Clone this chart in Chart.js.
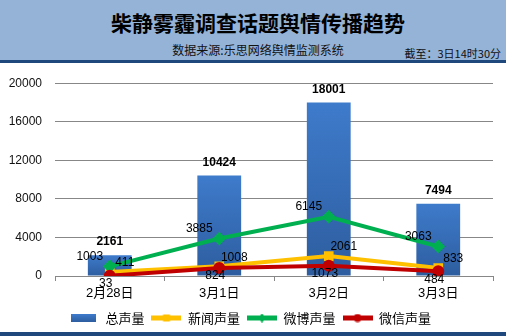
<!DOCTYPE html>
<html>
<head>
<meta charset="utf-8">
<script src="https://cdn.jsdelivr.net/npm/chart.js@4"></script>
<style>
    body { margin: 0; width: 506px; height: 336px; overflow: hidden; background: #fff; position: relative; }
    #header { position: absolute; left: 0; top: 0; width: 506px; height: 60px; background: #95B3D7; border-bottom: 3px solid #1F497D; }
    #title { position: absolute; left: 5px; width: 506px; top: 8px; text-align: center; font: bold 21px "Noto Sans CJK SC"; color: #000; line-height: 28px; }
    #source { position: absolute; left: 5px; width: 506px; top: 41px; text-align: center; font: 12px "Noto Sans CJK SC"; color: #111; line-height: 18px; }
    #asof { position: absolute; right: 5px; top: 45px; font: 11px "Noto Sans CJK SC"; color: #111; line-height: 16px; }
    #wrap { position: absolute; left: 0; top: 63px; width: 506px; height: 273px; }
    #footer { position: absolute; left: 0; top: 332px; width: 506px; height: 4px; background: #1F497D; }
</style>
</head>
<body>
<div id="header">
    <div id="title">柴静雾霾调查话题舆情传播趋势</div>
    <div id="source">数据来源:乐思网络舆情监测系统</div>
    <div id="asof">截至：3日14时30分</div>
</div>
<div id="wrap"><canvas id="trendChart"></canvas></div>
<div id="footer"></div>
<script>
// 数据
const days = ['2月28日', '3月1日', '3月2日', '3月3日'];
const totalVolume = [2161, 10424, 18001, 7494];
const newsVolume = [411, 1008, 2061, 833];
const weiboVolume = [1003, 3885, 6145, 3063];
const weixinVolume = [33, 824, 1073, 484];
const yTicks = [0, 4000, 8000, 12000, 16000, 20000];

const numFont = '"Liberation Sans", "Noto Sans CJK SC"';

// 柱子渐变（每根柱子自己的上下）
function barGradient(context) {
    const chart = context.chart;
    if (!chart.chartArea || context.dataIndex === undefined) return '#3A72BE';
    const y = chart.scales.y;
    const top = y.getPixelForValue(context.raw);
    const base = y.getPixelForValue(0);
    const g = chart.ctx.createLinearGradient(0, top, 0, base);
    g.addColorStop(0, '#3E7BCB');
    g.addColorStop(1, '#2D5D9F');
    return g;
}

// 图例小图标
function makeIcon(color, marker) {
    const c = document.createElement('canvas');
    c.width = 30; c.height = 9;
    const ctx = c.getContext('2d');
    if (marker === 'bar') {
        c.width = 25; c.height = 8;
        const g = ctx.createLinearGradient(0, 0, 0, 8);
        g.addColorStop(0, '#3E7BCB');
        g.addColorStop(1, '#2D5D9F');
        ctx.fillStyle = g;
        ctx.fillRect(0, 0, 25, 8);
        return c;
    }
    ctx.strokeStyle = color;
    ctx.lineWidth = 5;
    ctx.beginPath();
    ctx.moveTo(0, 4.5);
    ctx.lineTo(30, 4.5);
    ctx.stroke();
    ctx.fillStyle = color;
    if (marker === 'rect') {
        ctx.fillRect(11.5, 1, 7, 7);
    } else if (marker === 'rectRot') {
        ctx.beginPath();
        ctx.moveTo(15, 0); ctx.lineTo(19.5, 4.5); ctx.lineTo(15, 9); ctx.lineTo(10.5, 4.5);
        ctx.closePath(); ctx.fill();
    } else {
        ctx.beginPath();
        ctx.arc(15, 4.5, 4, 0, Math.PI * 2);
        ctx.fill();
    }
    return c;
}

const icons = [
    makeIcon('#3A72BE', 'bar'),
    makeIcon('#FFC000', 'rect'),
    makeIcon('#00B050', 'rectRot'),
    makeIcon('#C00000', 'circle')
];

// 数据标签
const valueLabels = {
    id: 'valueLabels',
    afterDatasetsDraw(chart) {
        const ctx = chart.ctx;
        chart.data.datasets.forEach((ds, i) => {
            const meta = chart.getDatasetMeta(i);
            const off = ds.labelOffset;
            ctx.save();
            ctx.font = (ds.type === 'bar' ? 'bold ' : '') + '12px ' + numFont;
            ctx.fillStyle = '#000';
            ctx.textAlign = 'center';
            ctx.textBaseline = 'middle';
            meta.data.forEach((el, j) => {
                ctx.fillText(String(ds.data[j]), el.x + off[0], el.y + off[1]);
            });
            ctx.restore();
        });
    }
};

const lineBase = {
    type: 'line',
    borderWidth: 4,
    pointRadius: 4,
    pointHoverRadius: 4,
    fill: false,
    tension: 0
};

new Chart(document.getElementById('trendChart'), {
    type: 'bar',
    data: {
        labels: days,
        datasets: [
            {
                type: 'bar',
                label: '总声量',
                data: totalVolume,
                backgroundColor: barGradient,
                barPercentage: 0.4,
                categoryPercentage: 1,
                order: 4,
                labelOffset: [0, -13]
            },
            Object.assign({}, lineBase, {
                label: '新闻声量',
                data: newsVolume,
                borderColor: '#FFC000',
                backgroundColor: '#FFC000',
                pointStyle: 'rect',
                order: 3,
                labelOffset: [15, -9]
            }),
            Object.assign({}, lineBase, {
                label: '微博声量',
                data: weiboVolume,
                borderColor: '#00B050',
                backgroundColor: '#00B050',
                pointStyle: 'rectRot',
                order: 2,
                labelOffset: [-20, -10]
            }),
            Object.assign({}, lineBase, {
                label: '微信声量',
                data: weixinVolume,
                borderColor: '#C00000',
                backgroundColor: '#C00000',
                pointStyle: 'circle',
                order: 1,
                labelOffset: [-4, 8]
            })
        ]
    },
    options: {
        responsive: true,
        maintainAspectRatio: false,
        animation: false,
        layout: { padding: { left: 7, right: 13, top: 19, bottom: 1.5 } },
        scales: {
            x: {
                grid: { display: true, drawOnChartArea: false, drawTicks: true, tickLength: 5, color: '#878787', offset: true },
                border: { color: '#878787' },
                ticks: { color: '#000', padding: 5, font: { size: 13, family: numFont } },
                afterFit(scale) { scale.height = 28.5; }
            },
            y: {
                min: 0,
                max: 20000,
                afterBuildTicks(scale) { scale.ticks = yTicks.map(v => ({ value: v })); },
                grid: { color: '#878787', drawTicks: false },
                border: { display: false },
                ticks: {
                    color: '#111',
                    padding: 13,
                    font: { size: 12, family: numFont },
                    callback: v => String(v)
                },
                afterFit(scale) { scale.width = 48; }
            }
        },
        plugins: {
            legend: {
                display: true,
                position: 'bottom',
                labels: {
                    usePointStyle: true,
                    pointStyleWidth: 30,
                    padding: 7,
                    color: '#000',
                    font: { size: 13, family: '"Noto Sans CJK SC"' },
                    sort: (a, b) => a.datasetIndex - b.datasetIndex,
                    generateLabels(chart) {
                        const items = Chart.defaults.plugins.legend.labels.generateLabels(chart);
                        items.forEach(it => { it.pointStyle = icons[it.datasetIndex]; });
                        return items;
                    }
                }
            },
            tooltip: { enabled: false }
        }
    },
    plugins: [valueLabels]
});
</script>
</body>
</html>
